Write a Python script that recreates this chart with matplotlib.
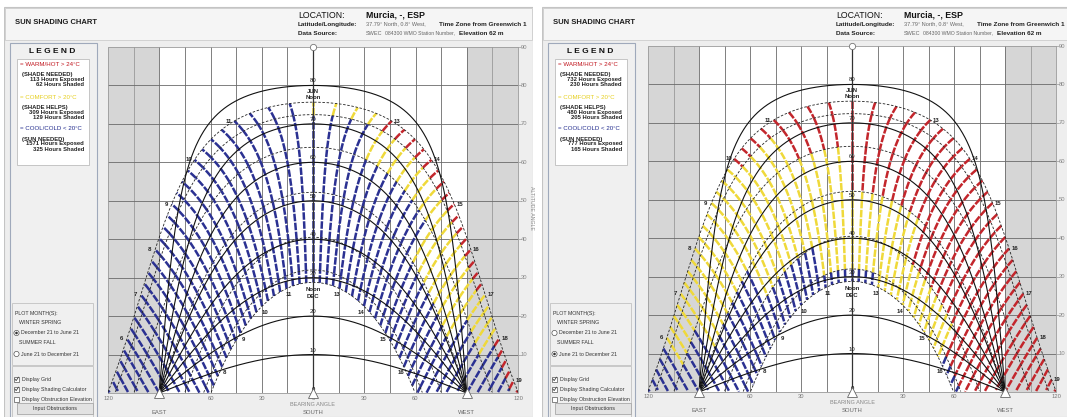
import numpy as np
import matplotlib.pyplot as plt
from matplotlib.collections import LineCollection
from matplotlib.patches import Rectangle, Circle

W, H = 1067, 417

LATITUDE = 37.79
# solar declination on the 21st: Dec, Jan, Feb, Mar, Apr, May, Jun
DECLINATIONS = [-23.44, -20.2, -11.7, 0.0, 11.7, 20.2, 23.44]
VSA_LEVELS = [10, 20, 30, 40, 50, 60, 70, 80]
HOURS = list(range(4, 20))
JUN_LABELS = [6, 7, 8, 9, 10, 11, 13, 14, 15, 16, 17, 18, 19]
DEC_LABELS = [8, 9, 10, 11, 13, 14, 15, 16]
BEARING_TICKS = [-120, -60, -30, 0, 30, 60, 120]
ALTITUDE_TICKS = [90, 80, 70, 60, 50, 40, 30, 20, 10]

# temperature class per hour (4h .. 19h) for each month band
# B = cool/cold, Y = comfort, R = warm/hot
WINTER_SPRING = [          # Dec-Jan ... May-Jun
    "BBBBBBBBBBBBBBBB",
    "BBBBBBBBBBBBBBBB",
    "BBBBBBBBBBBBBBBB",
    "BBBBBBBBBBBYYBBB",
    "BBBBBBBBBYYYYYBB",
    "BBBBBBBBYRRRRYRR",
]
SUMMER_FALL = [            # Jun-Jul ... Nov-Dec
    "BBYYYYRRRRRRRRRR",
    "BBYYYYYRRRRRRRRR",
    "BBBYYYYYRRRRRRRR",
    "BBBBBYYYYYRRRRRR",
    "BBBBBBBYYYYYRRBB",
    "BBBBBBBBBYYYBBBB",
]
WINTER_COUNTS = ["113", "62", "309", "129", "1571", "325"]
SUMMER_COUNTS = ["732", "230", "480", "205", "777", "165"]

COLORS = {"R": "#c3262c", "Y": "#efd93a", "B": "#2b3192"}

plt.rcParams['font.family'] = ['Liberation Sans', 'DejaVu Sans']
fig = plt.figure(figsize=(W / 100, H / 100), dpi=100)
fig.patch.set_facecolor('white')


def sun_pos(dec, t):
    phi = np.radians(LATITUDE)
    d = np.radians(dec)
    ha = np.radians(15 * (t - 12))
    alt = np.degrees(np.arcsin(np.sin(phi) * np.sin(d) + np.cos(phi) * np.cos(d) * np.cos(ha)))
    az = np.degrees(np.arctan2(np.sin(ha) * np.cos(d),
                               np.cos(ha) * np.cos(d) * np.sin(phi) - np.sin(d) * np.cos(phi)))
    return az, alt


def draw_ui(ox, summer, counts):
    x0, x1 = ox + 4, min(ox + 533, W)
    ui = fig.add_axes([x0 / W, 0, (x1 - x0) / W, 1])
    ui.set_xlim(x0, x1)
    ui.set_ylim(H, 0)
    ui.axis('off')

    def T(x, y, s, **kw):
        kw.setdefault('fontsize', 4.3)
        kw.setdefault('va', 'center')
        kw.setdefault('color', '#333333')
        ui.text(ox + x, y, s, clip_on=True, **kw)

    ui.add_patch(Rectangle((ox + 4, 7), 529, 410, fc='#eeeeee', ec='#c4c4c4', lw=0.8))
    ui.add_patch(Rectangle((ox + 5, 8), 527, 32, fc='#f5f5f5', ec='#cccccc', lw=0.6))
    T(15, 22, 'SUN SHADING CHART', fontsize=5.5, weight='bold', color='#1e1e1e')
    T(298, 15, 'LOCATION:', fontsize=6.3, color='#111111')
    T(366, 15, 'Murcia, -, ESP', fontsize=6.3, weight='bold', color='#111111')
    T(298, 24, 'Latitude/Longitude:', fontsize=4.6, weight='bold', color='#222222')
    T(366, 24, '37.79° North, 0.8° West,', fontsize=4.0, color='#666666')
    T(439, 24, 'Time Zone from Greenwich 1', fontsize=4.6, weight='bold', color='#222222')
    T(298, 33, 'Data Source:', fontsize=4.6, weight='bold', color='#222222')
    T(366, 33, 'SWEC', fontsize=4.0, color='#666666')
    T(385, 33, '084300 WMO Station Number,', fontsize=3.7, color='#666666')
    T(459, 33, 'Elevation 62 m', fontsize=4.6, weight='bold', color='#222222')

    # side bar and legend
    ui.add_patch(Rectangle((ox + 10, 43), 87, 380, fc='#f0f0f0', ec='#9fa9bb', lw=0.8))
    T(52, 51, 'L E G E N D', fontsize=6, weight='bold', ha='center', color='#111111')
    ui.add_patch(Rectangle((ox + 17, 59), 72, 106, fc='white', ec='#bdbdbd', lw=0.6))
    heads = [('= WARM/HOT > 24°C', '#c0141c', '(SHADE NEEDED)', 64),
             ('= COMFORT > 20°C', '#e6cf1c', '(SHADE HELPS)', 97),
             ('= COOL/COLD < 20°C', '#202a8c', '(SUN NEEDED)', 129)]
    for i, (head, col, note, y) in enumerate(heads):
        T(20, y, head, fontsize=4.4, color=col)
        T(22, y + 10, note, fontsize=4.2, weight='bold', color='#222222')
        T(84, y + 15, counts[2 * i] + ' Hours Exposed', fontsize=4.2, weight='bold',
          ha='right', color='#222222')
        T(84, y + 20.5, counts[2 * i + 1] + ' Hours Shaded', fontsize=4.2, weight='bold',
          ha='right', color='#222222')

    # plot month controls
    ui.add_patch(Rectangle((ox + 12, 303), 81, 62, fc='#f0f0f0', ec='#c2c2c2', lw=0.6))
    ui.add_patch(Rectangle((ox + 12, 366), 81, 51, fc='#f0f0f0', ec='#c2c2c2', lw=0.6))
    T(15, 313, 'PLOT MONTH(S):', fontsize=3.8)
    T(19, 323, 'WINTER SPRING', fontsize=3.8)
    T(19, 343, 'SUMMER FALL', fontsize=3.8)
    for y, label, on in [(333, 'December 21 to June 21', not summer),
                         (354, 'June 21 to December 21', summer)]:
        ui.add_patch(Circle((ox + 16.5, y), 2.6, fc='white', ec='#555555', lw=0.5))
        if on:
            ui.add_patch(Circle((ox + 16.5, y), 1.3, fc='#333333', ec='none'))
        T(21, y, label, fontsize=3.8)
    for y, label, on in [(379, 'Display Grid', True),
                         (389, 'Display Shading Calculator', True),
                         (399, 'Display Obstruction Elevation', False)]:
        ui.add_patch(Rectangle((ox + 14, y - 2.5), 5, 5, fc='white', ec='#555555', lw=0.5))
        if on:
            ui.plot([ox + 14.8, ox + 16.2, ox + 18.4], [y, y + 1.6, y - 1.8],
                    color='#444444', lw=0.6)
        T(22, y, label, fontsize=3.8)
    ui.add_patch(Rectangle((ox + 17, 403), 76, 11, fc='#e2e2e2', ec='#a8a8a8', lw=0.6))
    T(55, 408.5, 'Input Obstructions', fontsize=3.9, ha='center')


def draw_chart(x0, y0, w, h, bands, dec_order, axis_title=True):
    ax = fig.add_axes([x0 / W, 1 - (y0 + h) / H, w / W, h / H])
    ax.set_xlim(-120, 120)
    ax.set_ylim(0, 90)
    ax.axis('off')
    pt = 0.72  # points per pixel

    ax.axvspan(-120, -90, color='#d6d6d6', lw=0, zorder=0)
    ax.axvspan(90, 120, color='#d6d6d6', lw=0, zorder=0)
    ax.axvspan(-90, 90, color='white', lw=0, zorder=0)
    for b in range(-105, 120, 15):
        c = '#9a9a9a' if abs(b) > 90 else '#6a6a6a'
        ax.axvline(b, color=c, lw=0.6, zorder=1)
    for a in range(10, 90, 10):
        ax.axhline(a, color='#6a6a6a', lw=0.6, zorder=1)
    ax.plot([-120, 120, 120, -120, -120], [0, 0, 90, 90, 0], color='#9a9a9a', lw=0.6,
            clip_on=False, zorder=1)

    # quarter-hour sun positions coloured by temperature
    segs, cols = [], []
    for t in np.arange(4, 20, 0.25):
        hi = int(t) - HOURS[0]
        for k in range(len(dec_order) - 1):
            decs = np.linspace(dec_order[k], dec_order[k + 1], 10)
            az, alt = sun_pos(decs, t)
            ok = alt >= 0
            if ok.sum() < 2:
                continue
            segs.append(np.column_stack([az[ok], alt[ok]]))
            cols.append(COLORS[bands[k][hi]])
    ax.add_collection(LineCollection(segs, colors=cols, linewidths=1.8,
                                     linestyles=[(0, (3, 0.6))], zorder=2))

    # monthly sun paths
    tt = np.linspace(3, 21, 600)
    for d in DECLINATIONS:
        az, alt = sun_pos(d, tt)
        alt = np.where(alt >= 0, alt, np.nan)
        ax.plot(az, alt, color='#222222', lw=0.6, ls=(0, (3, 2)), zorder=3)

    # shading calculator curves
    bb = np.linspace(-90, 90, 721)
    for v in VSA_LEVELS:
        ax.plot(bb, np.degrees(np.arctan(np.tan(np.radians(v)) * np.cos(np.radians(bb)))),
                color='#111111', lw=0.8, zorder=4)
        ax.annotate(str(v), (0, v), xytext=(0, 2 * pt), textcoords='offset points',
                    ha='center', va='bottom', fontsize=4.3, color='#222222', zorder=6)
    ax.plot([0, 0], [0, 90], color='#333333', lw=0.9, zorder=4)
    ax.plot([0], [90], 'o', ms=4.5, mfc='white', mec='#777777', mew=0.6, clip_on=False, zorder=6)
    ax.annotate('0', (0, 0), xytext=(0, 1 * pt), textcoords='offset points', ha='center',
                va='bottom', fontsize=4.3, weight='bold', color='#222222', zorder=6)

    # hour labels
    for hr in JUN_LABELS:
        az, alt = sun_pos(23.44, hr)
        dx = -5.5 if hr < 12 else 5.5
        ax.annotate(str(hr), (az, alt), xytext=(dx * pt, 0), textcoords='offset points',
                    ha='center', va='center', fontsize=4.3, weight='bold', color='#222222',
                    annotation_clip=False, zorder=6)
    for hr in DEC_LABELS:
        az, alt = sun_pos(-23.44, hr)
        dx = 2.5 if hr < 12 else -2.5
        ax.annotate(str(hr), (az, alt), xytext=(dx * pt, -6 * pt), textcoords='offset points',
                    ha='center', va='center', fontsize=4.3, weight='bold', color='#222222',
                    zorder=6)
    az, alt = sun_pos(23.44, 12.0)
    ax.annotate('JUN', (0, alt), xytext=(0, 11 * pt), textcoords='offset points', ha='center',
                va='center', fontsize=4.3, weight='bold', color='#222222', zorder=6)
    ax.annotate('Noon', (0, alt), xytext=(0, 5 * pt), textcoords='offset points', ha='center',
                va='center', fontsize=4.3, weight='bold', color='#222222', zorder=6)
    az, alt = sun_pos(-23.44, 12.0)
    ax.annotate('Noon', (0, alt), xytext=(0, -7 * pt), textcoords='offset points', ha='center',
                va='center', fontsize=4.3, weight='bold', color='#222222', zorder=6)
    ax.annotate('DEC', (0, alt), xytext=(0, -14 * pt), textcoords='offset points', ha='center',
                va='center', fontsize=4.3, weight='bold', color='#222222', zorder=6)

    # axes labels
    for b in BEARING_TICKS:
        ax.annotate(str(abs(b)), (b, 0), xytext=(0, -5 * pt), textcoords='offset points',
                    ha='center', va='center', fontsize=4.2, color='#777777',
                    annotation_clip=False)
    for a in ALTITUDE_TICKS:
        ax.plot([120, 121.8], [a, a], color='#9a9a9a', lw=0.5, clip_on=False)
        ax.annotate(str(a), (120, a), xytext=(6 * pt, 0), textcoords='offset points',
                    ha='center', va='center', fontsize=4.2, color='#888888',
                    annotation_clip=False)
    if axis_title:
        ax.annotate('ALTITUDE ANGLE', (120, 48), xytext=(14 * pt, 0),
                    textcoords='offset points', ha='center', va='center', fontsize=3.8,
                    color='#888888', rotation=270, annotation_clip=False)
    for b, name in [(-90, 'EAST'), (0, 'SOUTH'), (90, 'WEST')]:
        ax.plot([b], [0], marker='^', ms=7, mfc='white', mec='#666666', mew=0.6,
                clip_on=False, zorder=7)
        ax.annotate(name, (b, 0), xytext=(0, -19 * pt), textcoords='offset points',
                    ha='center', va='center', fontsize=4.2, color='#666666',
                    annotation_clip=False)
    ax.annotate('BEARING ANGLE', (0, 0), xytext=(0, -11 * pt), textcoords='offset points',
                ha='center', va='center', fontsize=4, color='#888888', annotation_clip=False)
    return ax


draw_ui(0, False, WINTER_COUNTS)
draw_chart(108, 47, 410, 346, WINTER_SPRING, DECLINATIONS)
draw_ui(538, True, SUMMER_COUNTS)
draw_chart(648, 46, 408, 346, SUMMER_FALL, DECLINATIONS[::-1], axis_title=False)

fig.savefig('out.png', dpi=100, facecolor='white')
